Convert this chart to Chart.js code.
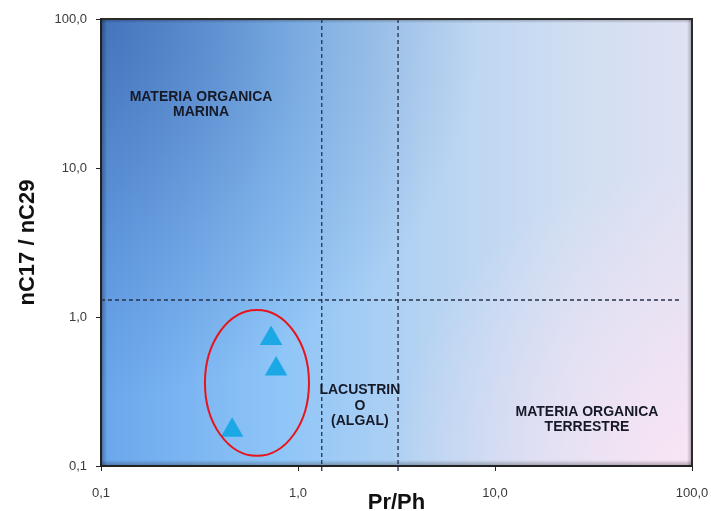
<!DOCTYPE html>
<html>
<head>
<meta charset="utf-8">
<script src="https://cdn.jsdelivr.net/npm/chart.js@4/dist/chart.umd.min.js"></script>
<style>
  body { margin: 0; background: #fff; }
  canvas { display: block; }
</style>
</head>
<body>
<canvas id="chart" width="711" height="511"></canvas>
<script>
// Sample points (Pr/Ph vs nC17/nC29)
const prPh = [0.73, 0.774, 0.463];
const nC17nC29 = [0.718, 0.448, 0.174];

// Axis ticks
const tickValues = [0.1, 1, 10, 100];
const tickLabels = ['0,1', '1,0', '10,0', '100,0'];

// Dashed boundaries
const vLimits = [1.32, 3.22];
const hLimit = 1.3;
const hLimitEnd = 88;

// Red ellipse bounds [xMin, xMax, yMin, yMax]
const ellipseBounds = [0.337, 1.137, 0.117, 1.114];

// Region labels
const regionText = [
  ['MATERIA ORGANICA', 'MARINA'],
  ['LACUSTRIN', 'O', '(ALGAL)'],
  ['MATERIA ORGANICA', 'TERRESTRE']
];
const regionX = [0.322, 2.06, 29.3];
const regionY = [26.7, 0.253, 0.204];

const plotBackground = {
  id: 'plotBackground',
  beforeDraw(chart) {
    const { ctx, chartArea: a } = chart;
    const w = a.right - a.left, h = a.bottom - a.top;
    ctx.save();
    let g = ctx.createLinearGradient(a.left, 0, a.right, 0);
    g.addColorStop(0, '#6aa6ec');
    g.addColorStop(0.3, '#8ec5f8');
    g.addColorStop(0.55, '#b5d3f2');
    g.addColorStop(0.8, '#d0def2');
    g.addColorStop(1, '#dfe2f3');
    ctx.fillStyle = g;
    ctx.fillRect(a.left, a.top, w, h);
    // pink towards bottom-right
    let p = ctx.createRadialGradient(a.right, a.bottom, 0, a.right, a.bottom, 300);
    p.addColorStop(0, 'rgba(250,228,244,0.95)');
    p.addColorStop(1, 'rgba(250,228,244,0)');
    ctx.fillStyle = p;
    ctx.fillRect(a.left, a.top, w, h);
    // darker top-left corner
    const r = ctx.createRadialGradient(a.left, a.top, 0, a.left, a.top, 380);
    r.addColorStop(0, 'rgba(30,65,140,0.5)');
    r.addColorStop(0.6, 'rgba(30,65,140,0.17)');
    r.addColorStop(1, 'rgba(30,65,140,0)');
    ctx.fillStyle = r;
    ctx.fillRect(a.left, a.top, w, h);
    // inner shadows
    let s = ctx.createLinearGradient(a.left, 0, a.left + 6, 0);
    s.addColorStop(0, 'rgba(0,0,0,0.35)');
    s.addColorStop(1, 'rgba(0,0,0,0)');
    ctx.fillStyle = s;
    ctx.fillRect(a.left, a.top, 6, h);
    s = ctx.createLinearGradient(0, a.bottom, 0, a.bottom - 6);
    s.addColorStop(0, 'rgba(0,0,0,0.3)');
    s.addColorStop(1, 'rgba(0,0,0,0)');
    ctx.fillStyle = s;
    ctx.fillRect(a.left, a.bottom - 6, w, 6);
    s = ctx.createLinearGradient(a.right, 0, a.right - 5, 0);
    s.addColorStop(0, 'rgba(0,0,0,0.3)');
    s.addColorStop(1, 'rgba(0,0,0,0)');
    ctx.fillStyle = s;
    ctx.fillRect(a.right - 5, a.top, 5, h);
    s = ctx.createLinearGradient(0, a.top, 0, a.top + 4);
    s.addColorStop(0, 'rgba(0,0,0,0.3)');
    s.addColorStop(1, 'rgba(0,0,0,0)');
    ctx.fillStyle = s;
    ctx.fillRect(a.left, a.top, w, 4);
    // frame top and right
    ctx.strokeStyle = '#2b2b2b';
    ctx.lineWidth = 2;
    ctx.beginPath();
    ctx.moveTo(a.left, a.top);
    ctx.lineTo(a.right, a.top);
    ctx.lineTo(a.right, a.bottom);
    ctx.stroke();
    ctx.restore();
  },
  beforeDatasetsDraw(chart) {
    const { ctx, chartArea: a, scales: { x, y } } = chart;
    ctx.save();
    ctx.strokeStyle = '#27324a';
    ctx.lineWidth = 1.3;
    ctx.setLineDash([4, 3]);
    vLimits.forEach(v => {
      const px = x.getPixelForValue(v);
      ctx.beginPath();
      ctx.moveTo(px, a.top);
      ctx.lineTo(px, a.bottom + 6);
      ctx.stroke();
    });
    const py = y.getPixelForValue(hLimit);
    ctx.beginPath();
    ctx.moveTo(a.left, py);
    ctx.lineTo(x.getPixelForValue(hLimitEnd), py);
    ctx.stroke();
    ctx.restore();
  },
  afterDatasetsDraw(chart) {
    const { ctx, scales: { x, y } } = chart;
    ctx.save();
    // ellipse around samples
    const x0 = x.getPixelForValue(ellipseBounds[0]);
    const x1 = x.getPixelForValue(ellipseBounds[1]);
    const y0 = y.getPixelForValue(ellipseBounds[3]);
    const y1 = y.getPixelForValue(ellipseBounds[2]);
    ctx.strokeStyle = '#e8141b';
    ctx.lineWidth = 2;
    ctx.beginPath();
    ctx.ellipse((x0 + x1) / 2, (y0 + y1) / 2, (x1 - x0) / 2, (y1 - y0) / 2, 0, 0, Math.PI * 2);
    ctx.stroke();
    // region labels
    ctx.fillStyle = '#161a28';
    ctx.font = 'bold 14px "Liberation Sans", Arial, sans-serif';
    ctx.textAlign = 'center';
    ctx.textBaseline = 'middle';
    regionText.forEach((lines, i) => {
      const cx = x.getPixelForValue(regionX[i]);
      const cy = y.getPixelForValue(regionY[i]);
      const lh = 15.5;
      lines.forEach((t, j) => {
        ctx.fillText(t, cx, cy + (j - (lines.length - 1) / 2) * lh);
      });
    });
    ctx.restore();
  }
};

const tickFont = { family: '"Liberation Sans", Arial, sans-serif', size: 13 };
const titleFont = { family: '"Liberation Sans", Arial, sans-serif', size: 22, weight: 'bold', lineHeight: 1 };

function fixedTicks(scale) {
  scale.ticks = tickValues.map(v => ({ value: v }));
}
function tickLabel(value) {
  const i = tickValues.indexOf(value);
  return i >= 0 ? tickLabels[i] : '';
}

new Chart(document.getElementById('chart'), {
  type: 'scatter',
  data: {
    datasets: [{
      data: prPh.map((v, i) => ({ x: v, y: nC17nC29[i] })),
      pointStyle: 'triangle',
      pointRadius: 13,
      backgroundColor: '#1ca8e4',
      borderColor: '#1ca8e4',
      borderWidth: 0
    }]
  },
  options: {
    responsive: false,
    animation: false,
    layout: { autoPadding: false, padding: { top: 19, right: 19, left: 0, bottom: 0 } },
    plugins: {
      legend: { display: false },
      tooltip: { enabled: false }
    },
    scales: {
      x: {
        type: 'logarithmic',
        min: 0.1,
        max: 100,
        afterBuildTicks: fixedTicks,
        afterFit(scale) {
          scale.height = 45;
          scale.paddingLeft = 0;
          scale.paddingRight = 0;
        },
        grid: { drawOnChartArea: false, tickLength: 5, color: '#222' },
        border: { display: true, color: '#222', width: 2 },
        ticks: { callback: tickLabel, font: tickFont, color: '#3a3a3a', padding: 15, autoSkip: false, maxRotation: 0 },
        title: { display: true, text: 'Pr/Ph', font: titleFont, color: '#111', padding: { top: 0, bottom: -3 } }
      },
      y: {
        type: 'logarithmic',
        min: 0.1,
        max: 100,
        afterBuildTicks: fixedTicks,
        afterFit(scale) {
          scale.width = 101;
          scale.paddingTop = 0;
          scale.paddingBottom = 0;
        },
        grid: { drawOnChartArea: false, tickLength: 5, color: '#222' },
        border: { display: true, color: '#222', width: 2 },
        ticks: { callback: tickLabel, font: tickFont, color: '#3a3a3a', padding: 9, autoSkip: false },
        title: { display: true, text: 'nC17 / nC29', font: titleFont, color: '#111', padding: { top: 17, bottom: 0 } }
      }
    }
  },
  plugins: [plotBackground]
});
</script>
</body>
</html>
